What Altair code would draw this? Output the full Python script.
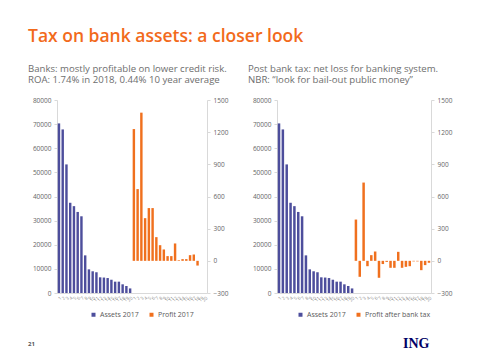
import altair as alt
import pandas as pd

# ---- data ----
assets_2017 = [70300, 67800, 53300, 37400, 36000, 33600, 31800, 15600, 9800, 9000,
               8600, 6500, 6400, 6200, 5500, 4700, 4700, 3600, 2900, 1900]
profit_2017 = [1229, 669, 1382, 398, 492, 492, 221, 146, 106, 44,
               44, 162, 6, 16, 16, 53, 59, -44]
profit_after_tax = [385, -149, 730, -50, 53, 87, -158, -30, -10, -65,
                    -65, 84, -65, -56, -50, -5, -5, -87, -40, -18]
asset_labels = [str(i) for i in range(1, 21)]
profit_labels = [str(i) for i in range(1, 21)]

title_text = "Tax on bank assets: a closer look"
left_sub = ["Banks: mostly profitable on lower credit risk.",
            "ROA: 1.74% in 2018, 0.44% 10 year average"]
right_sub = ["Post bank tax: net loss for banking system.",
             "NBR: \u201clook for bail-out public money\u201d"]

BLUE = "#4D4E9C"
ORANGE = "#F0701E"
GREY = "#666666"
LINE = "#D9D9D9"
FONT = "Open Sans"

all_labels = asset_labels + profit_labels
label_expr = "[" + ",".join("'" + l + "'" for l in all_labels) + "][datum.value - 1]"
domain_idx = list(range(1, len(all_labels) + 1))


def make_df(profits, pname):
    rows = []
    for i, v in enumerate(assets_2017):
        rows.append({"idx": i + 1, "series": "Assets 2017", "value": v})
    for i, v in enumerate(profits):
        rows.append({"idx": len(asset_labels) + i + 1, "series": pname, "value": v})
    return pd.DataFrame(rows)


def panel(profits, pname, width, sub, legend_x, footer=None):
    df = make_df(profits, pname)
    base = alt.Chart(df)
    x = alt.X("idx:O", scale=alt.Scale(domain=domain_idx, paddingInner=0.35, paddingOuter=0.2),
              axis=alt.Axis(title=None, labelExpr=label_expr, labelAngle=-45, labelFontSize=4.5,
                            labelColor="#888888", ticks=False, domainColor=LINE, labelPadding=2,
                            labelFont=FONT))
    color = alt.Color("series:N",
                      scale=alt.Scale(domain=["Assets 2017", pname], range=[BLUE, ORANGE]),
                      legend=alt.Legend(title=None, orient="none", direction="horizontal",
                                        legendX=legend_x, legendY=211, symbolType="square",
                                        symbolSize=16, labelFontSize=7, labelColor="#595959",
                                        labelFont=FONT, columnPadding=9, labelOffset=3,
                                        symbolStrokeWidth=0))
    blue = base.transform_filter(alt.datum.series == "Assets 2017").mark_bar().encode(
        x=x,
        y=alt.Y("value:Q", scale=alt.Scale(domain=[0, 80000]),
                axis=alt.Axis(title=None, values=list(range(0, 80001, 10000)), grid=False,
                              format="d",
                              labelFontSize=6.5, labelColor=GREY, domainColor=LINE,
                              tickColor=LINE, tickSize=3, labelFont=FONT, labelPadding=3)),
        color=color,
    )
    orange = base.transform_filter(alt.datum.series == pname).mark_bar().encode(
        x=x,
        y=alt.Y("value:Q", scale=alt.Scale(domain=[-300, 1500]),
                axis=alt.Axis(title=None, orient="right", values=list(range(-300, 1501, 300)),
                              format="d",
                              grid=False, labelFontSize=6.5, labelColor=GREY, domainColor=LINE,
                              tickColor=LINE, tickSize=3, labelFont=FONT, labelPadding=3)),
        color=color,
    )
    layers = [blue, orange]
    if footer is not None:
        layers.append(footer)
    return alt.layer(*layers).resolve_scale(y="independent").properties(
        width=width, height=193,
        title=alt.TitleParams(sub, anchor="start", frame="group", dx=-29, fontSize=9.6,
                              font=FONT, color="#6E6E6E", fontWeight="normal", offset=12,
                              lineHeight=11.5),
    )


page_df = pd.DataFrame({"t": ["21"]})
page_no = alt.Chart(page_df).mark_text(align="left", baseline="alphabetic", fontSize=6,
                                        fontWeight="bold", color="#555555", font=FONT).encode(
    x=alt.value(-29), y=alt.value(246), text="t:N")
ing_df = pd.DataFrame({"t": ["ING"]})
ing = alt.Chart(ing_df).mark_text(align="left", baseline="alphabetic", fontSize=14,
                                   fontWeight="bold", color="#000066",
                                   font="Liberation Serif").encode(
    x=alt.value(126), y=alt.value(248), text="t:N")

left = panel(profit_2017, "Profit 2017", 150, left_sub, 33, page_no)
right = panel(profit_after_tax, "Profit after bank tax", 154, right_sub, 20, ing)

chart = alt.hconcat(left, right, spacing=20).resolve_scale(color="independent").resolve_legend(
    color="independent").properties(
    title=alt.TitleParams(title_text, anchor="start", fontSize=17.5, font=FONT, color="#F26A1B",
                          fontWeight=600, offset=18, frame="bounds"),
    padding={"left": 20, "top": 20, "right": 5, "bottom": 5},
).configure_view(stroke=None)

chart.save("out.html", embed_options={"renderer": "svg", "actions": False})
